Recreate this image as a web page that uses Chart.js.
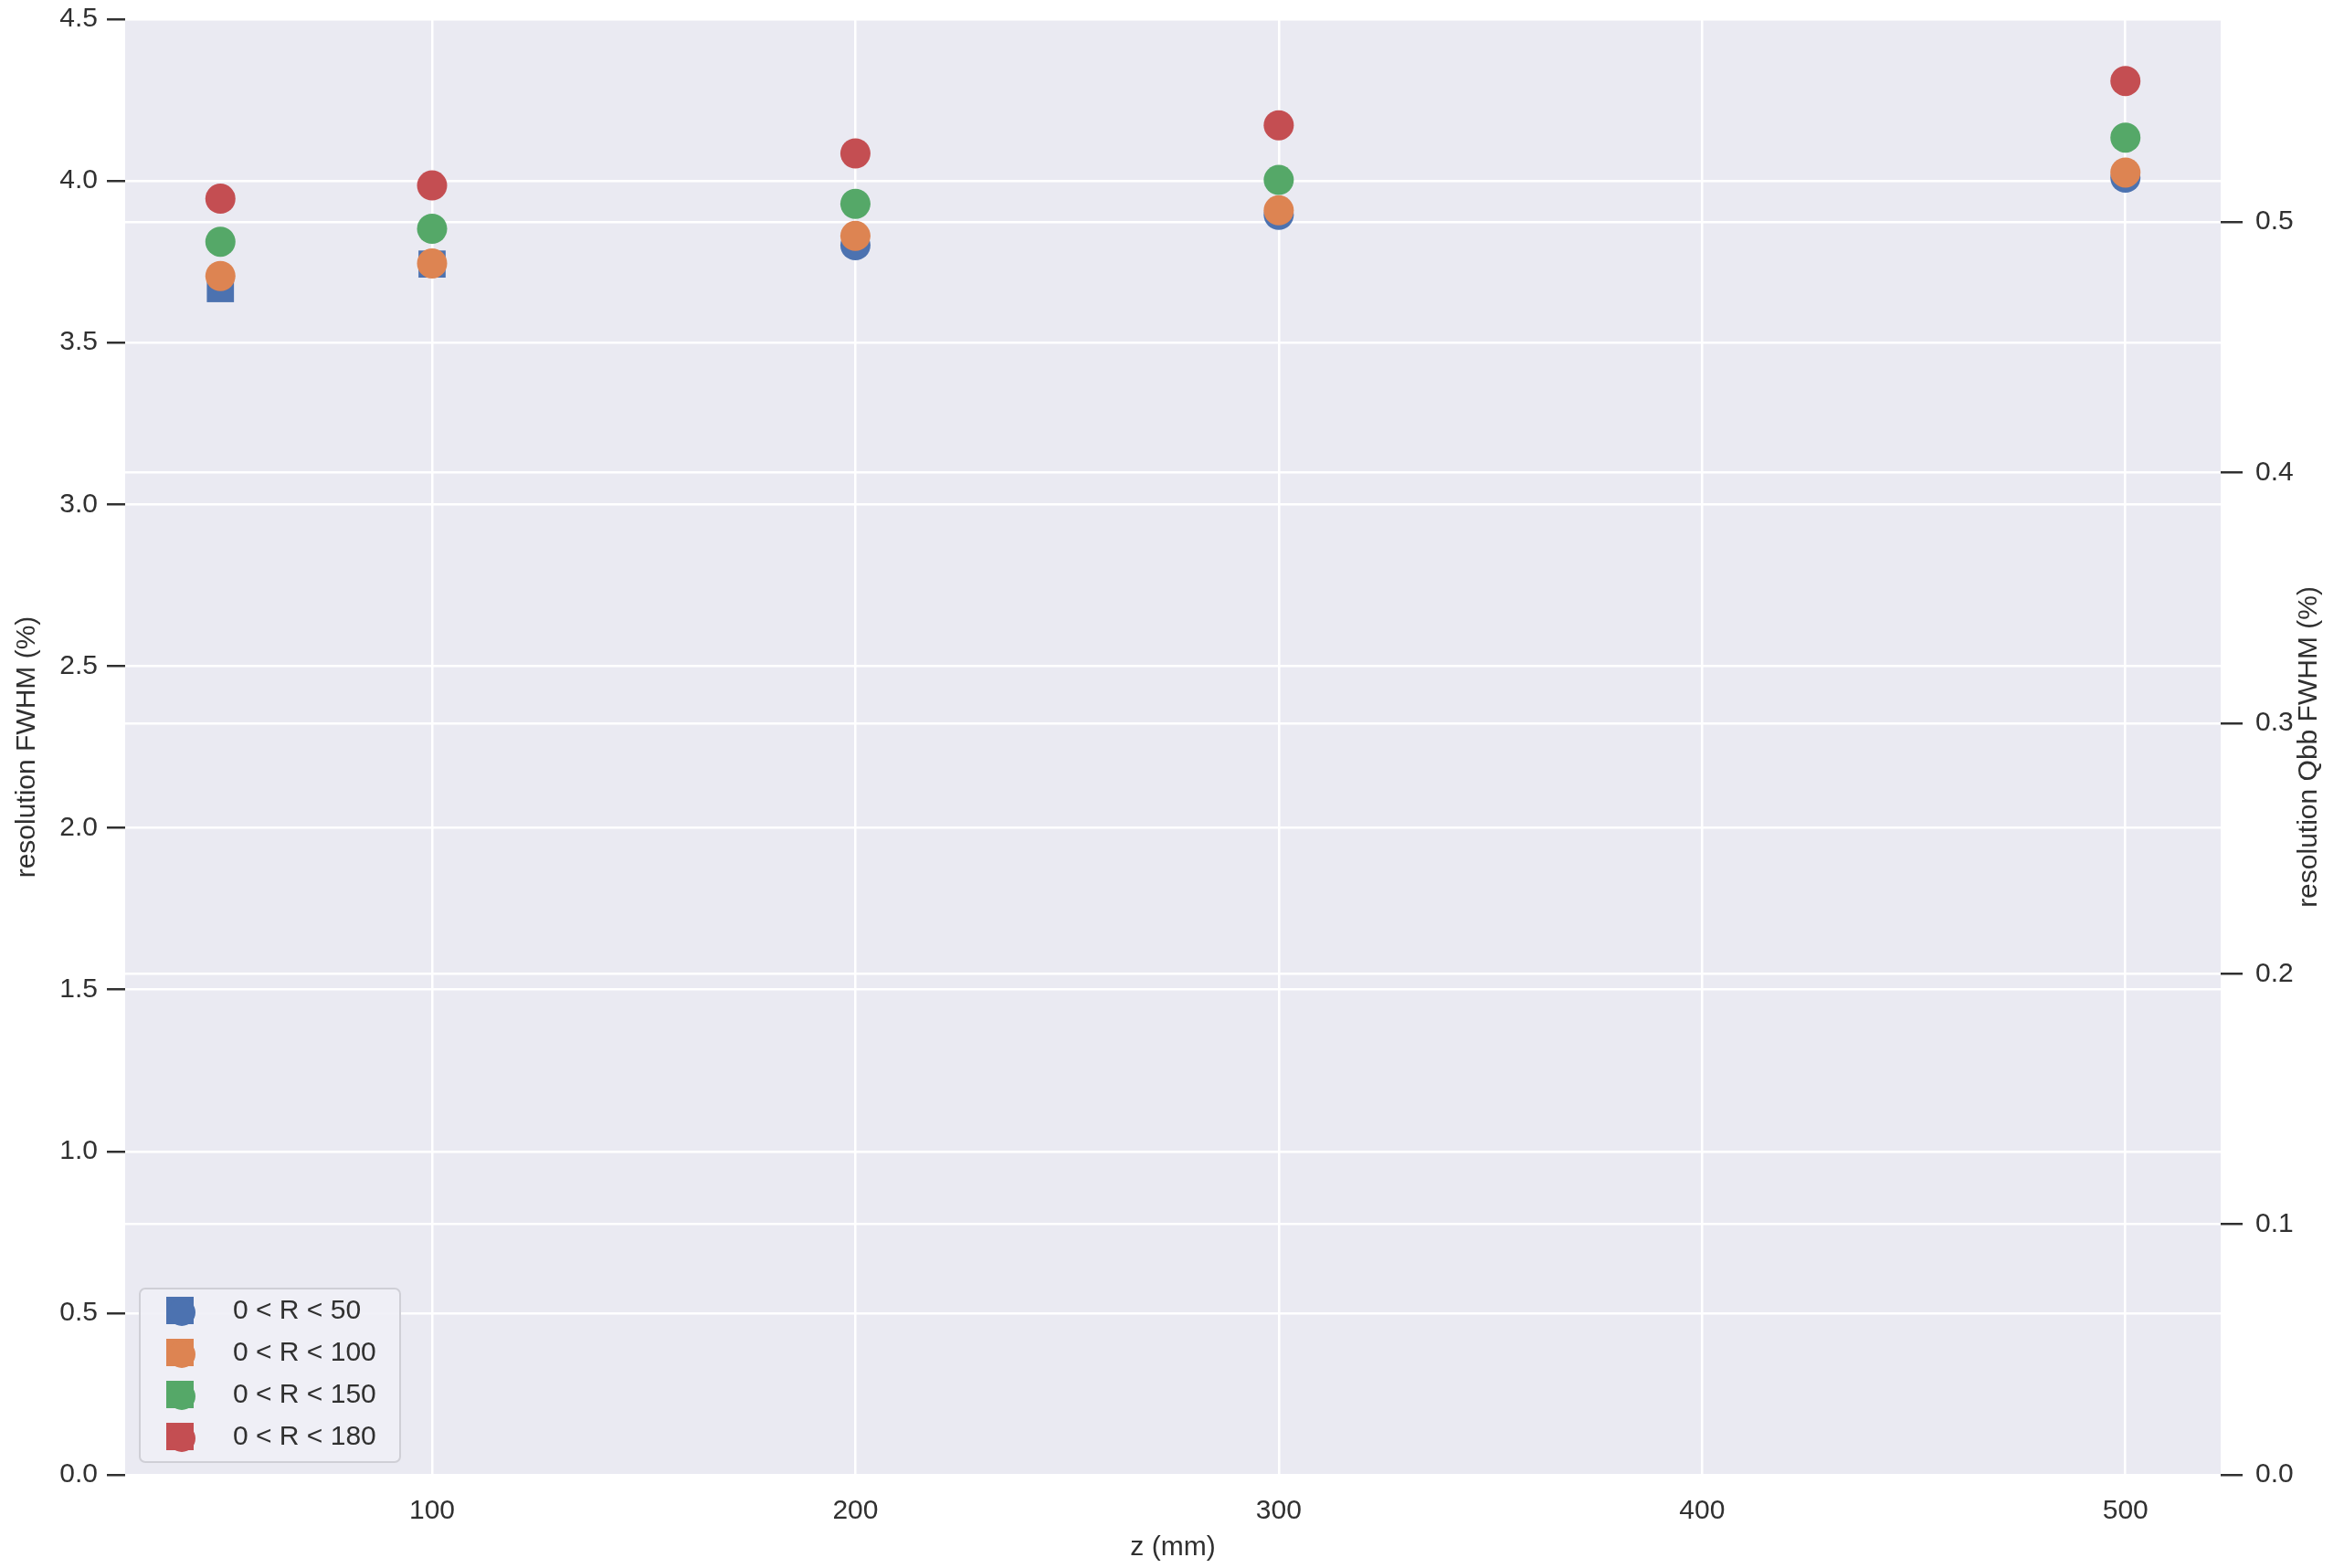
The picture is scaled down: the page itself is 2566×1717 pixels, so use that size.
<!DOCTYPE html>
<html lang="en">
<head>
    <meta charset="UTF-8">
    <title>resolution vs z</title>
    <script src="https://cdn.jsdelivr.net/npm/chart.js"></script>
    <style>
        html, body { margin: 0; padding: 0; background: #ffffff; }
        #chart { display: block; }
    </style>
</head>
<body>
    <canvas id="chart" width="2566" height="1717"></canvas>

    <script>
        // values
        const zValues = [50, 100, 200, 300, 500];
        const res50 = [3.667, 3.743, 3.801, 3.895, 4.010];
        const res100 = [3.706, 3.745, 3.830, 3.909, 4.026];
        const res150 = [3.812, 3.852, 3.929, 4.003, 4.134];
        const res180 = [3.945, 3.986, 4.085, 4.172, 4.309];
        const seriesLabels = ['0 < R < 50', '0 < R < 100', '0 < R < 150', '0 < R < 180'];
        const seriesColors = ['#4C72B0', '#DD8452', '#55A868', '#C44E52'];

        const xTicks = [100, 200, 300, 400, 500];
        const yTicks = [0, 0.5, 1, 1.5, 2, 2.5, 3, 3.5, 4, 4.5];
        const qbbTicks = [0, 0.1, 0.2, 0.3, 0.4, 0.5];

        const textColor = '#303030';
        const font = { family: "'Liberation Sans', Arial, sans-serif", size: 30 };

        function makeSet(i, values) {
            return {
                label: seriesLabels[i],
                data: zValues.map((z, k) => ({ x: z, y: values[k] })),
                backgroundColor: seriesColors[i],
                borderColor: seriesColors[i],
                borderWidth: 0,
                pointRadius: 16.5,
                pointHoverRadius: 16.5,
                order: 4 - i,
            };
        }

        const datasets = [
            makeSet(0, res50),
            makeSet(1, res100),
            makeSet(2, res150),
            makeSet(3, res180),
        ];
        // first series is drawn with square markers at the two smallest z
        datasets[0].pointStyle = ['rect', 'rect', 'circle', 'circle', 'circle'];
        datasets[0].pointRadius = [21, 21, 16.5, 16.5, 16.5];

        // vertical axes: no extra room for the half label at the ends
        function fitVertical(width) {
            return (s) => { s.width = width; s.paddingTop = 0; s.paddingBottom = 0; };
        }

        // grey plot background, right-hand title and the boxed legend
        const decorPlugin = {
            id: 'decor',
            beforeDraw(chart) {
                const { ctx, chartArea: a } = chart;
                ctx.save();
                ctx.fillStyle = '#EAEAF2';
                ctx.fillRect(a.left, a.top, a.right - a.left, a.bottom - a.top);
                ctx.restore();
            },
            afterDraw(chart) {
                const { ctx, chartArea: a } = chart;
                ctx.save();
                ctx.font = `${font.size}px ${font.family}`;
                ctx.fillStyle = textColor;

                // right axis title
                ctx.translate(2528, (a.top + a.bottom) / 2);
                ctx.rotate(-Math.PI / 2);
                ctx.textAlign = 'center';
                ctx.textBaseline = 'middle';
                ctx.fillText('resolution Qbb FWHM (%)', 0, 0);
                ctx.setTransform(1, 0, 0, 1, 0, 0);

                // legend box
                const bx = a.left + 16, by = a.bottom - 204, bw = 285, bh = 190;
                ctx.beginPath();
                ctx.roundRect(bx, by, bw, bh, 6);
                ctx.fillStyle = 'rgba(240, 240, 246, 0.9)';
                ctx.fill();
                ctx.strokeStyle = '#cfcfd6';
                ctx.lineWidth = 2;
                ctx.stroke();

                ctx.textAlign = 'left';
                ctx.textBaseline = 'middle';
                chart.data.datasets.forEach((ds, i) => {
                    const cy = by + 24 + i * 46;
                    const cx = bx + 44;
                    ctx.fillStyle = ds.backgroundColor;
                    ctx.fillRect(cx - 15, cy - 15, 30, 30);
                    ctx.beginPath();
                    ctx.arc(cx + 2, cy + 2, 15, 0, Math.PI * 2);
                    ctx.fill();
                    ctx.fillStyle = textColor;
                    ctx.fillText(ds.label, bx + 102, cy + 1);
                });
                ctx.restore();
            }
        };

        const ctx = document.getElementById('chart').getContext('2d');
        new Chart(ctx, {
            type: 'scatter',
            data: { datasets: datasets },
            options: {
                responsive: false,
                animation: false,
                layout: { padding: { top: 19, left: 0, right: 0, bottom: 0 } },
                plugins: {
                    legend: { display: false },
                    tooltip: { enabled: false },
                },
                scales: {
                    x: {
                        type: 'linear',
                        min: 27.5,
                        max: 522.5,
                        afterBuildTicks: (s) => { s.ticks = xTicks.map(v => ({ value: v })); },
                        afterFit: (s) => { s.height = 102; s.paddingLeft = 0; s.paddingRight = 0; },
                        grid: { color: '#ffffff', lineWidth: 2.5, drawTicks: false },
                        border: { display: false },
                        ticks: { color: textColor, font: font, padding: 22 },
                        title: {
                            display: true, text: 'z (mm)', color: textColor, font: font,
                            padding: { top: 0, bottom: 4 }
                        },
                    },
                    y: {
                        position: 'left',
                        min: 0,
                        max: 4.5,
                        afterBuildTicks: (s) => { s.ticks = yTicks.map(v => ({ value: v })); },
                        afterFit: fitVertical(137),
                        grid: { color: '#ffffff', lineWidth: 2.5, tickColor: '#303030', tickLength: 20, tickWidth: 2.5 },
                        border: { display: false },
                        ticks: { color: textColor, font: font, padding: 10, callback: (v) => v.toFixed(1) },
                        title: {
                            display: true, text: 'resolution FWHM (%)', color: textColor, font: font,
                            padding: { top: 12, bottom: 0 }
                        },
                    },
                    yQbb: {
                        position: 'right',
                        min: 0,
                        max: 0.581,
                        afterBuildTicks: (s) => { s.ticks = qbbTicks.map(v => ({ value: v })); },
                        afterFit: fitVertical(135),
                        grid: { color: '#ffffff', lineWidth: 2.5, tickColor: '#303030', tickLength: 24, tickWidth: 2.5 },
                        border: { display: false },
                        ticks: { color: textColor, font: font, padding: 14, callback: (v) => v.toFixed(1) },
                        title: { display: false },
                    },
                },
            },
            plugins: [decorPlugin],
        });
    </script>
</body>
</html>
